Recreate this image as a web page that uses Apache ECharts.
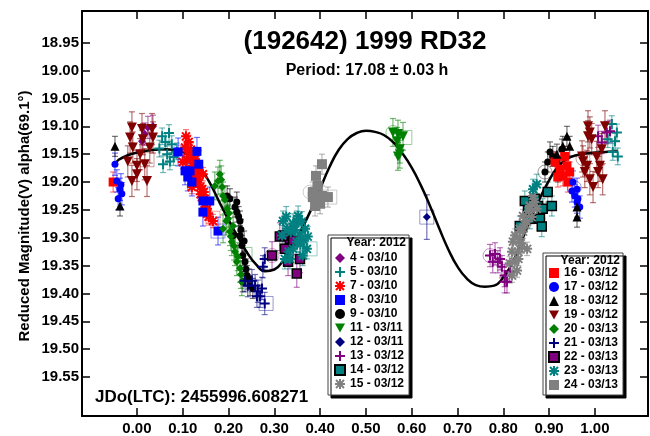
<!DOCTYPE html>
<html>
<head>
<meta charset="utf-8">
<script src="https://cdn.jsdelivr.net/npm/echarts@6/dist/echarts.min.js"></script>
<style>
html,body{margin:0;padding:0;background:#fff;}
#lc{width:650px;height:436px;}
</style>
</head>
<body>
<div id="lc"></div>
<script>
var xTicks = [0, 0.1, 0.2, 0.3, 0.4, 0.5, 0.6, 0.7, 0.8, 0.9, 1.0];
var yTicks = [18.95, 19.00, 19.05, 19.10, 19.15, 19.20, 19.25, 19.30, 19.35, 19.40, 19.45, 19.50, 19.55];

var namesLeft = ['4 - 03/10','5 - 03/10','7 - 03/10','8 - 03/10','9 - 03/10','11 - 03/11','12 - 03/11','13 - 03/12','14 - 03/12','15 - 03/12'];
var namesRight = ['16 - 03/12','17 - 03/12','18 - 03/12','19 - 03/12','20 - 03/13','21 - 03/13','22 - 03/13','23 - 03/13','24 - 03/13'];

// phase, reduced mag
var ses4 = [[0.011,19.127],[0.024,19.102],[0.035,19.100],[0.017,19.114]];
var ses5 = [[0.055,19.118],[0.066,19.150],[0.072,19.163],[0.057,19.168],[0.076,19.132],[0.087,19.145],[0.062,19.128],[0.080,19.155],[0.049,19.140],[0.070,19.112],
            [1.037,19.096],[1.048,19.111],[1.044,19.127],[1.050,19.154],[1.039,19.146],[1.028,19.123]];
var ses7 = [[0.107,19.118],[0.105,19.138],[0.111,19.145],[0.116,19.155],[0.122,19.171],[0.122,19.180],[0.131,19.189],[0.131,19.198],[0.133,19.195],[0.138,19.209],
            [0.142,19.213],[0.142,19.227],[0.148,19.230],[0.148,19.239],[0.153,19.248],[0.153,19.257],[0.100,19.164],[0.120,19.209],[0.127,19.159],[0.144,19.186],[0.166,19.270],
            [0.113,19.128],[0.125,19.165],[0.135,19.178],[0.139,19.222],[0.146,19.218],[0.150,19.245],[0.157,19.262],[0.118,19.142],[0.109,19.160],[0.128,19.185]];
var ses8 = [[0.090,19.146],[0.131,19.145],[0.135,19.168],[0.105,19.180],[0.116,19.180],[0.111,19.191],[0.120,19.200],[0.144,19.234],[0.159,19.234],[0.144,19.254],[0.177,19.288]];
var ses9 = [[0.197,19.225],[0.203,19.230],[0.218,19.236],[0.218,19.254],[0.225,19.270],[0.210,19.296],[0.225,19.296],[0.229,19.314],[0.231,19.332],[0.236,19.343],
            [0.240,19.368],[0.247,19.386],[0.231,19.379],[0.253,19.391],[0.214,19.245],[0.222,19.262],[0.234,19.306],[0.238,19.356],[0.244,19.374],[0.227,19.285],
            [0.891,19.182],[0.902,19.146],[0.908,19.154],[0.917,19.164],[0.928,19.141],[0.897,19.164],[0.919,19.182]];
var ses11 = [[0.559,19.111],[0.570,19.114],[0.581,19.118],[0.568,19.127],[0.574,19.141],[0.574,19.150],[0.570,19.154]];
var ses12 = [[0.633,19.263]];
var ses13 = [[0.771,19.332],[0.782,19.329],[0.788,19.343],[0.797,19.352],[0.803,19.368],[0.808,19.379],[0.777,19.343],[0.814,19.361],[0.793,19.338],[0.803,19.379],
             [1.007,19.118],[1.026,19.111],[1.015,19.129],[1.033,19.109]];
var ses14 = [[0.854,19.248],[0.869,19.230],[0.876,19.243],[0.886,19.248],[0.906,19.243],[0.858,19.266],[0.880,19.266],[0.897,19.218],[0.836,19.279],[0.847,19.234],[0.884,19.280]];
var ses15 = [[0.819,19.368],[0.825,19.343],[0.832,19.325],[0.821,19.307],[0.836,19.302],[0.843,19.289],[0.836,19.284],[0.852,19.271],[0.843,19.261],[0.858,19.243],
             [0.865,19.225],[0.873,19.248],[0.862,19.263],[0.830,19.359],[0.841,19.316],[0.819,19.325],[0.852,19.320],[0.814,19.346],
             [0.826,19.296],[0.847,19.276],[0.856,19.252],[0.833,19.338],[0.838,19.310],[0.868,19.236]];
var ses16 = [[0.913,19.164],[0.924,19.177],[0.930,19.189],[0.919,19.191],[0.939,19.171],[0.945,19.182],[0.934,19.154],[0.941,19.200],[-0.052,19.200]];
var ses17 = [[0.952,19.200],[0.961,19.213],[0.956,19.225],[0.963,19.230],[0.967,19.245],[0.950,19.216],[0.961,19.236],
             [-0.048,19.168],[-0.044,19.198],[-0.037,19.213],[-0.033,19.221],[-0.041,19.230],[-0.035,19.205]];
var ses18 = [[0.939,19.118],[0.945,19.136],[0.930,19.136],[0.917,19.150],[0.961,19.245],[0.961,19.263],[-0.048,19.136],[-0.037,19.243]];
var ses19 = [[-0.011,19.102],[-0.015,19.120],[-0.009,19.138],[0.000,19.171],[-0.011,19.198],[0.011,19.105],[0.013,19.123],[0.007,19.150],[0.017,19.168],[0.022,19.198],
             [0.000,19.186],[0.028,19.138],[-0.020,19.163],[0.033,19.105],[0.035,19.120],[0.985,19.100],[0.989,19.111],[0.985,19.118],[0.993,19.123],[0.972,19.154],
             [0.974,19.163],[0.983,19.171],[0.978,19.182],[0.989,19.195],[0.996,19.209],[1.007,19.182],[1.011,19.171],[1.017,19.195],[1.022,19.100],[1.015,19.141],[1.004,19.155]];
var ses20 = [[0.177,19.198],[0.181,19.186],[0.186,19.209],[0.188,19.225],[0.197,19.248],[0.199,19.266],[0.203,19.289],[0.207,19.307],[0.214,19.325],[0.218,19.343],
             [0.225,19.355],[0.229,19.379],[0.188,19.284],[0.210,19.279],[0.170,19.207],
             [0.192,19.232],[0.201,19.256],[0.205,19.298],[0.212,19.315],[0.220,19.334],[0.227,19.366],[0.184,19.196],[0.195,19.270]];
var ses21 = [[0.251,19.377],[0.258,19.386],[0.264,19.396],[0.269,19.405],[0.275,19.352],[0.279,19.338],[0.273,19.391],[0.262,19.405],[0.279,19.418],[0.242,19.386],[0.236,19.377]];
var ses22 = [[0.295,19.332],[0.312,19.298],[0.334,19.302],[0.323,19.320],[0.349,19.364],[0.330,19.343],[0.356,19.338],[0.319,19.296],[0.341,19.305]];
var ses23 = [[0.319,19.270],[0.328,19.284],[0.317,19.296],[0.341,19.275],[0.349,19.270],[0.360,19.271],[0.367,19.284],[0.356,19.296],[0.349,19.307],[0.371,19.320],
             [0.362,19.332],[0.341,19.320],[0.334,19.338],[0.323,19.338],[0.373,19.298],[0.352,19.261],
             [0.326,19.262],[0.336,19.290],[0.345,19.286],[0.357,19.312],[0.364,19.305],[0.331,19.325],[0.865,19.213],[0.873,19.204]];
var ses24 = [[0.404,19.168],[0.391,19.189],[0.395,19.207],[0.384,19.218],[0.384,19.227],[0.404,19.225],[0.417,19.227],[0.400,19.239],[0.389,19.243]];

var sessionData = [ses4,ses5,ses7,ses8,ses9,ses11,ses12,ses13,ses14,ses15,ses16,ses17,ses18,ses19,ses20,ses21,ses22,ses23,ses24];
var sessionErr = [0.02,0.015,0.012,0.025,0.018,0.025,0.04,0.02,0.018,0.012,0.018,0.02,0.018,0.028,0.025,0.02,0.025,0.018,0.018];
var sessionColors = ['#800080','#008080','#FF0000','#0000FF','#000000','#008000','#000080','#800080','#008080','#808080',
                     '#FF0000','#0000FF','#000000','#800000','#008000','#000080','#800080','#008080','#808080'];

// open markers drawn around some points: phase, mag, session index, shape
var rings = [[0.090,19.146,3,'circle'],[0.177,19.288,3,'rect'],[0.166,19.265,2,'rect'],[0.378,19.218,18,'circle'],[0.421,19.227,18,'rect'],
             [0.633,19.263,6,'rect'],[0.559,19.111,5,'circle'],[0.585,19.120,5,'rect'],[0.295,19.332,16,'circle'],[0.771,19.332,7,'circle'],
             [0.378,19.320,17,'rect'],[0.282,19.418,15,'rect'],[0.236,19.330,14,'rect'],[0.891,19.182,4,'circle'],[0.974,19.158,13,'circle'],
             [0.955,19.210,11,'circle'],[0.022,19.160,13,'rect']];

// fourier fit
var fitPhase = [-0.045,-0.04,-0.02,0,0.02,0.04,0.06,0.08,0.10,0.12,0.14,0.16,0.18,0.20,0.22,0.24,0.26,0.28,0.30,0.32,0.34,0.36,0.38,0.40,0.42,0.44,0.46,0.48,
                0.50,0.52,0.54,0.56,0.58,0.60,0.62,0.64,0.66,0.68,0.70,0.72,0.74,0.76,0.78,0.80,0.82,0.84,0.86,0.88,0.90,0.92,0.94,0.96,0.98,1.00,1.02,1.04,1.05];
var fitMag = [19.165,19.160,19.152,19.147,19.144,19.142,19.141,19.142,19.146,19.156,19.176,19.203,19.236,19.268,19.298,19.326,19.348,19.360,19.357,19.340,19.314,19.284,19.250,19.212,
              19.174,19.143,19.123,19.112,19.108,19.110,19.116,19.129,19.149,19.174,19.206,19.243,19.283,19.321,19.352,19.373,19.385,19.388,19.386,19.371,19.345,19.306,19.265,
              19.229,19.197,19.172,19.158,19.152,19.149,19.147,19.146,19.145,19.145];

var PLUS = 'path://M4,0L6,0L6,4L10,4L10,6L6,6L6,10L4,10L4,6L0,6L0,4L4,4Z';
var STAR = 'path://M0,4L10,4L10,6L0,6Z M4,0L6,0L6,10L4,10Z M1.7,0.3L9.7,8.3L8.3,9.7L0.3,1.7Z M9.7,1.7L1.7,9.7L0.3,8.3L8.3,0.3Z';
var DOWN = 'path://M0,0L10,0L5,9Z';
var sessionSymbols = ['diamond',PLUS,STAR,'rect','circle',DOWN,'diamond',PLUS,'rect',STAR,
                      'rect','circle','triangle',DOWN,'diamond',PLUS,'rect',STAR,'rect'];
var sessionSizes = [8,10,10,9,7,10,8,10,9,10,9,7,9,10,8,10,9,10,10];

var FONT = 'Liberation Sans, Arial, sans-serif';

function fade(hex, a) {
    var r = parseInt(hex.substr(1,2),16), g = parseInt(hex.substr(3,2),16), b = parseInt(hex.substr(5,2),16);
    return 'rgba(' + r + ',' + g + ',' + b + ',' + a + ')';
}

function renderBar(params, api) {
    var x = api.value(0), y = api.value(1), e = api.value(2);
    var c = fade(sessionColors[api.value(3)], 0.55);
    var p1 = api.coord([x, y - e]);
    var p2 = api.coord([x, y + e]);
    var w = 3;
    var st = {stroke: c, lineWidth: 1.2};
    return {
        type: 'group',
        children: [
            {type: 'line', shape: {x1: p1[0], y1: p1[1], x2: p2[0], y2: p2[1]}, style: st},
            {type: 'line', shape: {x1: p1[0] - w, y1: p1[1], x2: p1[0] + w, y2: p1[1]}, style: st},
            {type: 'line', shape: {x1: p2[0] - w, y1: p2[1], x2: p2[0] + w, y2: p2[1]}, style: st}
        ]
    };
}

var allNames = namesLeft.concat(namesRight);
var errData = [];
var series = [];
for (var i = 0; i < sessionData.length; i++) {
    for (var j = 0; j < sessionData[i].length; j++) {
        errData.push([sessionData[i][j][0], sessionData[i][j][1], sessionErr[i], i]);
    }
}
series.push({
    type: 'custom',
    renderItem: renderBar,
    data: errData,
    encode: {x: 0, y: 1},
    clip: true,
    z: 1,
    silent: true
});
var ringData = [];
for (var i = 0; i < rings.length; i++) {
    ringData.push({
        value: [rings[i][0], rings[i][1]],
        symbol: rings[i][3],
        itemStyle: {color: 'rgba(0,0,0,0)', borderColor: fade(sessionColors[rings[i][2]], 0.5), borderWidth: 1}
    });
}
series.push({type: 'scatter', data: ringData, symbolSize: 14, z: 1, silent: true});
var fitData = [];
for (var i = 0; i < fitPhase.length; i++) fitData.push([fitPhase[i], fitMag[i]]);
series.push({
    type: 'line',
    data: fitData,
    smooth: true,
    showSymbol: false,
    lineStyle: {color: '#000', width: 2.5},
    z: 2,
    silent: true
});
for (var i = 0; i < sessionData.length; i++) {
    var boxed = (allNames[i] == '14 - 03/12' || allNames[i] == '22 - 03/13');
    series.push({
        name: allNames[i],
        type: 'scatter',
        data: sessionData[i],
        symbol: sessionSymbols[i],
        symbolSize: sessionSizes[i],
        itemStyle: {
            color: sessionColors[i],
            opacity: 1,
            borderColor: boxed ? '#000' : sessionColors[i],
            borderWidth: boxed ? 1.5 : 0
        },
        z: 3
    });
}

function legendOf(names, left, top) {
    return {
        data: names,
        orient: 'vertical',
        left: left,
        top: top,
        padding: 0,
        itemGap: 0,
        itemWidth: 10,
        itemHeight: 10,
        selectedMode: false,
        z: 12,
        textStyle: {fontFamily: FONT, fontSize: 12, fontWeight: 'bold', color: '#000', lineHeight: 14}
    };
}

function boxOf(x, y, w, h) {
    return {
        type: 'rect', z: 10,
        shape: {x: x, y: y, width: w, height: h},
        style: {fill: '#fff', stroke: '#444', lineWidth: 1, shadowColor: '#000', shadowOffsetX: 3, shadowOffsetY: 3, shadowBlur: 0}
    };
}

function label(text, x, y, size, align) {
    return {
        type: 'text', z: 12, x: x, y: y,
        style: {text: text, fontFamily: FONT, fontSize: size, fontWeight: 'bold', fill: '#000', align: align || 'center', verticalAlign: 'middle'}
    };
}

function frameAxis(extra) {
    var a = {
        type: 'value',
        axisLine: {show: true, onZero: false, lineStyle: {color: '#000', width: 2}},
        splitLine: {show: false},
        axisTick: {inside: true, length: 8, lineStyle: {color: '#000', width: 1.5}},
        axisLabel: {show: false}
    };
    for (var k in extra) a[k] = extra[k];
    return a;
}

var xMin = -0.12, xMax = 1.116, yMin = 18.893, yMax = 19.62;
var lblStyle = {margin: 5, fontFamily: FONT, fontSize: 15, fontWeight: 'bold', color: '#000',
    formatter: function (v) { return v.toFixed(2); }};

option = {
    animation: false,
    backgroundColor: '#fff',
    grid: {left: 82, right: 2, top: 11, bottom: 18},
    xAxis: [
        frameAxis({min: xMin, max: xMax, position: 'bottom',
            axisTick: {inside: true, length: 8, lineStyle: {color: '#000', width: 1.5}, customValues: xTicks},
            axisLabel: Object.assign({customValues: xTicks}, lblStyle)}),
        frameAxis({min: xMin, max: xMax, position: 'top',
            axisTick: {inside: true, length: 8, lineStyle: {color: '#000', width: 1.5}, customValues: xTicks}})
    ],
    yAxis: [
        frameAxis({inverse: true, min: yMin, max: yMax, position: 'left',
            axisTick: {inside: true, length: 8, lineStyle: {color: '#000', width: 1.5}, customValues: yTicks},
            axisLabel: Object.assign({customValues: yTicks}, lblStyle, {margin: 3})}),
        frameAxis({inverse: true, min: yMin, max: yMax, position: 'right',
            axisTick: {inside: true, length: 8, lineStyle: {color: '#000', width: 1.5}, customValues: yTicks}})
    ],
    legend: [legendOf(namesLeft, 334, 251), legendOf(namesRight, 548, 266)],
    graphic: [
        boxOf(328, 235, 81, 160),
        boxOf(543, 253, 80, 142),
        label('Year: 2012', 406, 243, 12, 'right'),
        label('Year: 2012', 620, 261, 12, 'right'),
        label('(192642) 1999 RD32', 365, 42, 26),
        label('Period: 17.08 \u00b1 0.03 h', 367, 71, 16),
        label('JDo(LTC): 2455996.608271', 95, 397, 17, 'left'),
        {
            type: 'text', z: 12, x: 25, y: 216, rotation: Math.PI / 2,
            style: {text: 'Reduced Magnitude(V) alpha(69.1\u00b0)', fontFamily: FONT, fontSize: 15, fontWeight: 'bold', fill: '#000', align: 'center', verticalAlign: 'middle'}
        }
    ],
    series: series
};
var myChart = echarts.init(document.getElementById('lc'));
myChart.setOption(option);
window.onresize = myChart.resize;
</script>
</body>
</html>
